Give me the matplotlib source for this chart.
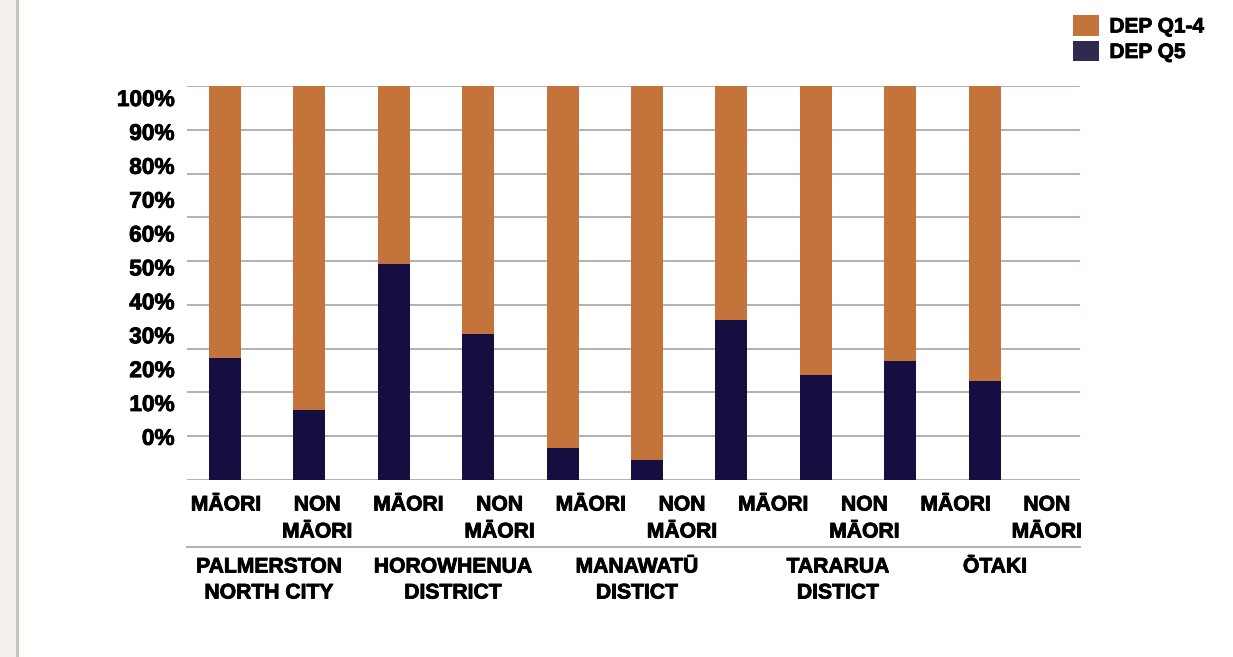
import matplotlib
matplotlib.use("Agg")
import matplotlib.pyplot as plt
import matplotlib.patheffects as pe
import numpy as np
from matplotlib.patches import Rectangle, Patch
from matplotlib.lines import Line2D

plt.rcParams['font.family'] = ['Liberation Sans', 'DejaVu Sans']
plt.rcParams['font.weight'] = 'bold'

# Share of each population in deprivation quintiles (percent)
bar_groups = ["MĀORI", "NON\nMĀORI"] * 5
districts = ["PALMERSTON\nNORTH CITY", "HOROWHENUA\nDISTRICT", "MANAWATŪ\nDISTICT",
             "TARARUA\nDISTICT", "ŌTAKI"]
dep_q5 = [31.0, 17.8, 54.8, 37.1, 8.1, 5.1, 40.6, 26.6, 30.2, 25.1]
dep_q1_4 = [69.0, 82.2, 45.2, 62.9, 91.9, 94.9, 59.4, 73.4, 69.8, 74.9]
ytick_labels = ["0%", "10%", "20%", "30%", "40%", "50%", "60%", "70%", "80%", "90%", "100%"]

ORANGE = "#C4733A"
NAVY = "#140F40"
NAVY_KEY = "#2E2B4E"
GRID = "#B9ADB1"
HEAVY = [pe.withStroke(linewidth=0.6, foreground="black")]

W, H = 1233, 657
fig = plt.figure(figsize=(W / 100, H / 100), dpi=100)
fig.patch.set_facecolor("white")

# panel edge on the left
fig.add_artist(Rectangle((0, 0), 16 / W, 1, transform=fig.transFigure,
                         facecolor="#F2F0ED", edgecolor="none"))
fig.add_artist(Rectangle((16 / W, 0), 3 / W, 1, transform=fig.transFigure,
                         facecolor="#C9C3BA", edgecolor="none"))

ax_l, ax_r, ax_t, ax_b = 187, 1080, 86, 480
ax = fig.add_axes([ax_l / W, 1 - ax_b / H, (ax_r - ax_l) / W, (ax_b - ax_t) / H])
ax.set_facecolor("none")

x = np.arange(len(dep_q5))
ax.bar(x, dep_q5, width=0.38, color=NAVY, zorder=3)
ax.bar(x, dep_q1_4, width=0.38, bottom=dep_q5, color=ORANGE, zorder=3)

ax.set_xlim(-0.45, 10.13)
ax.set_ylim(0, 100)

for k in range(10):
    ax.axhline(100 * k / 9, color=GRID, lw=1.4, zorder=1)

for s in ax.spines.values():
    s.set_visible(False)

ax.set_xticks([])
ytick_pos = np.linspace(11.2, 97.2, len(ytick_labels))
ax.set_yticks(ytick_pos)
ax.set_yticklabels(ytick_labels, fontsize=16.3, fontweight="bold")
for t in ax.get_yticklabels():
    t.set_path_effects(HEAVY)
ax.tick_params(axis="y", length=0, pad=9)

# category labels below the axis
px_w = ax_r - ax_l
px_h = ax_b - ax_t
def to_ax(px, py):
    return (px - ax_l) / px_w, (ax_b - py) / px_h

grp_x = [226 + 91.2 * i for i in range(len(bar_groups))]
for gx, lab in zip(grp_x, bar_groups):
    for j, line in enumerate(lab.split("\n")):
        xx, yy = to_ax(gx, 505 + 27 * j)
        ax.text(xx, yy, line, transform=ax.transAxes, ha="center", va="center",
                fontsize=15.2, fontweight="bold", clip_on=False, path_effects=HEAVY)

ax.add_line(Line2D([0, 1], [to_ax(0, 547)[1]] * 2, transform=ax.transAxes,
                   color=GRID, lw=1.4, clip_on=False))

dist_x = [269, 453, 637, 838, 995]
for dx, lab in zip(dist_x, districts):
    for j, line in enumerate(lab.split("\n")):
        xx, yy = to_ax(dx, 567 + 26 * j)
        ax.text(xx, yy, line, transform=ax.transAxes, ha="center", va="center",
                fontsize=15.2, fontweight="bold", clip_on=False, path_effects=HEAVY)

handles = [Patch(facecolor=ORANGE, edgecolor="none"), Patch(facecolor=NAVY_KEY, edgecolor="none")]
leg = fig.legend(handles, ["DEP Q1-4", "DEP Q5"], loc="upper left",
                 bbox_to_anchor=(1073 / W, 1 - 15 / H), frameon=False,
                 prop={"family": "Liberation Sans", "weight": "bold", "size": 15},
                 handlelength=1.25, handleheight=1.15, handletextpad=0.5,
                 labelspacing=0.2, borderpad=0, borderaxespad=0)
for t in leg.get_texts():
    t.set_path_effects(HEAVY)

fig.savefig("out.png", dpi=100)
